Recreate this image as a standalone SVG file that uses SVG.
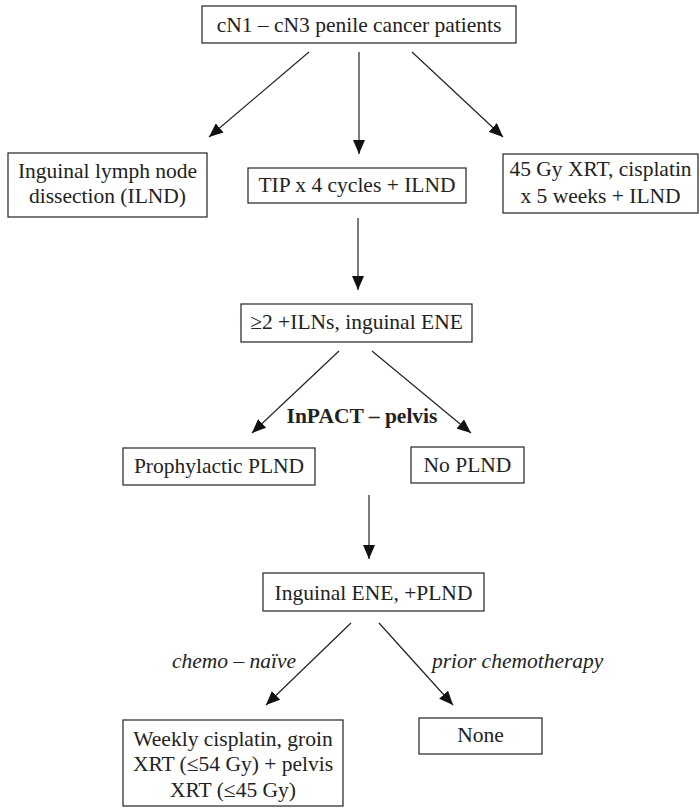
<svg xmlns="http://www.w3.org/2000/svg" width="700" height="809" viewBox="0 0 700 809">
<defs>
<marker id="ah" markerWidth="14" markerHeight="12" refX="14" refY="6" orient="auto" markerUnits="userSpaceOnUse">
<path d="M0,0 L14,6 L0,12 z" fill="#111"/>
</marker>
<style>
.box{fill:#fff;stroke:#222;stroke-width:1.2}
.t{font-family:"Liberation Serif","Times New Roman",serif;font-size:21.5px;fill:#222;text-anchor:middle}
.b{font-weight:bold}
.i{font-style:italic}
.c{stroke:#222;stroke-width:1.2;fill:none;marker-end:url(#ah)}
</style>
</defs>
<rect width="700" height="809" fill="#fff"/>
<g id="connectors">
<line class="c" x1="309" y1="52" x2="209" y2="137"/>
<line class="c" x1="359" y1="52" x2="359" y2="154"/>
<line class="c" x1="412" y1="52" x2="503" y2="137"/>
<line class="c" x1="358" y1="218" x2="358" y2="290"/>
<line class="c" x1="339" y1="351" x2="252" y2="433"/>
<line class="c" x1="372" y1="351" x2="471" y2="433"/>
<line class="c" x1="369" y1="495" x2="369" y2="559"/>
<line class="c" x1="351" y1="623" x2="266" y2="705"/>
<line class="c" x1="379" y1="623" x2="453" y2="705"/>
</g>
<g id="n-top">
<rect class="box" x="202" y="6" width="314" height="37"/>
<text class="t" x="359" y="32">cN1 – cN3 penile cancer patients</text>
</g>
<g id="n-ilnd">
<rect class="box" x="8" y="153" width="199" height="64"/>
<text class="t" x="107.5" y="178">Inguinal lymph node</text>
<text class="t" x="107.5" y="203">dissection (ILND)</text>
</g>
<g id="n-tip">
<rect class="box" x="248" y="168" width="218" height="35"/>
<text class="t" x="357" y="192">TIP x 4 cycles + ILND</text>
</g>
<g id="n-xrt">
<rect class="box" x="503" y="154" width="195" height="59"/>
<text class="t" x="600.5" y="176">45 Gy XRT, cisplatin</text>
<text class="t" x="600.5" y="203">x 5 weeks + ILND</text>
</g>
<g id="n-ene">
<rect class="box" x="241" y="304" width="231" height="38"/>
<text class="t" x="356.5" y="329">≥2 +ILNs, inguinal ENE</text>
</g>
<text class="t b" x="362" y="423">InPACT – pelvis</text>
<g id="n-pplnd">
<rect class="box" x="123" y="448" width="192" height="37"/>
<text class="t" x="219" y="473">Prophylactic PLND</text>
</g>
<g id="n-noplnd">
<rect class="box" x="411" y="447" width="113" height="36"/>
<text class="t" x="467.5" y="472">No PLND</text>
</g>
<g id="n-eneplnd">
<rect class="box" x="263" y="573" width="221" height="38"/>
<text class="t" x="373.5" y="600">Inguinal ENE, +PLND</text>
</g>
<text class="t i" x="234" y="668">chemo – naïve</text>
<text class="t i" x="432" y="668" style="text-anchor:start">prior chemotherapy</text>
<g id="n-weekly">
<rect class="box" x="123" y="720" width="220" height="86"/>
<text class="t" x="233" y="746">Weekly cisplatin, groin</text>
<text class="t" x="233" y="771">XRT (≤54 Gy) + pelvis</text>
<text class="t" x="233" y="797">XRT (≤45 Gy)</text>
</g>
<g id="n-none">
<rect class="box" x="419" y="718" width="123" height="36"/>
<text class="t" x="480.5" y="742">None</text>
</g>
</svg>
